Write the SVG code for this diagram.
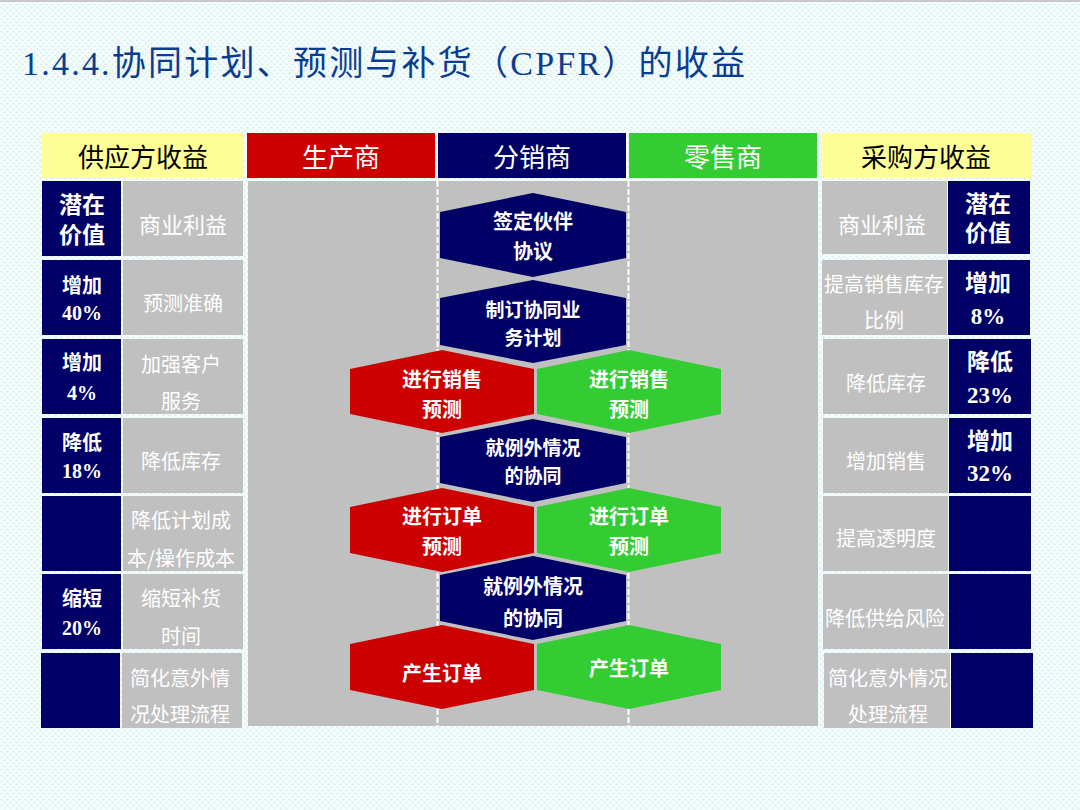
<svg xmlns="http://www.w3.org/2000/svg" width="1080" height="810" viewBox="0 0 1080 810">
<defs>
<pattern id="dots" width="6" height="6" patternUnits="userSpaceOnUse">
<rect width="6" height="6" fill="#f4fcfc"/>
<circle cx="1.5" cy="1.5" r="1" fill="#d3eeee"/>
<circle cx="4.5" cy="4.5" r="1" fill="#d3eeee"/>
</pattern>
<style>
.t{font-family:"Liberation Serif","Noto Sans CJK SC",serif;text-anchor:middle;dominant-baseline:central}
.hd{font-size:26px}
.wh{fill:#fff}
.bk{fill:#000}
.nv{fill:#000066}
.gr{fill:#c0c0c0}
.yl{fill:#ffff99}
.red{fill:#cc0000}
.grn{fill:#33cc33}
.g{font-size:20px;fill:#fff;font-family:"Noto Sans CJK SC",sans-serif;text-anchor:middle;dominant-baseline:central}
.g22{font-size:22px}
.b{font-size:20px;font-weight:bold;fill:#fff}
.b22{font-size:23px;font-weight:bold;fill:#fff}
.h{font-size:20px;font-weight:bold;fill:#fff;font-family:"Noto Sans CJK SC",sans-serif;text-anchor:middle;dominant-baseline:central}
.h19{font-size:19px}
</style>
</defs>
<rect width="1080" height="810" fill="url(#dots)"/>
<rect width="1080" height="2" fill="#c8c8c8"/>
<text x="22" y="75" font-family="Liberation Serif,Noto Sans CJK SC,serif" font-size="34" fill="#0a3d91" textLength="723" lengthAdjust="spacing">1.4.4.协同计划、预测与补货（CPFR）的收益</text>

<g id="headers">
<rect x="42" y="133" width="202" height="45" class="yl"/>
<text x="143" y="158" class="t hd bk">供应方收益</text>
<rect x="247" y="133" width="188" height="45" class="red"/>
<text x="341" y="158" class="t hd wh">生产商</text>
<rect x="438" y="133" width="188" height="45" class="nv"/>
<text x="532" y="158" class="t hd wh">分销商</text>
<rect x="629" y="133" width="188" height="45" class="grn"/>
<text x="723" y="158" class="t hd wh">零售商</text>
<rect x="821" y="133" width="211" height="45" class="yl"/>
<text x="926" y="158" class="t hd bk">采购方收益</text>
</g>

<g id="columns">
<rect x="248" y="181" width="570" height="545" class="gr"/>
<line x1="437.5" y1="181" x2="437.5" y2="726" stroke="#fff" stroke-width="2" stroke-dasharray="6 2"/>
<line x1="628.5" y1="181" x2="628.5" y2="726" stroke="#fff" stroke-width="2" stroke-dasharray="6 2"/>
</g>

<g id="left">
<rect x="42" y="181" width="79" height="75" class="nv"/><rect x="123" y="181" width="120" height="75" class="gr"/>
<text x="82" y="205" class="t b22">潜在</text><text x="82" y="235" class="t b22">价值</text>
<text x="183" y="223" class="g g22">商业利益</text>

<rect x="42" y="260" width="79" height="75" class="nv"/><rect x="123" y="260" width="120" height="75" class="gr"/>
<text x="82" y="286" class="t b">增加</text><text x="82" y="313" class="t b">40%</text>
<text x="183" y="302" class="g">预测准确</text>

<rect x="42" y="339" width="79" height="75" class="nv"/><rect x="123" y="339" width="120" height="75" class="gr"/>
<text x="82" y="363" class="t b">增加</text><text x="82" y="393" class="t b">4%</text>
<text x="181" y="363" class="g">加强客户</text><text x="181" y="400" class="g">服务</text>

<rect x="42" y="418" width="79" height="75" class="nv"/><rect x="123" y="418" width="120" height="75" class="gr"/>
<text x="82" y="443" class="t b">降低</text><text x="82" y="471" class="t b">18%</text>
<text x="181" y="460" class="g">降低库存</text>

<rect x="42" y="496" width="79" height="75" class="nv"/><rect x="123" y="496" width="120" height="75" class="gr"/>
<text x="181" y="519" class="g">降低计划成</text><text x="181" y="557" class="g">本/操作成本</text>

<rect x="42" y="574" width="79" height="75" class="nv"/><rect x="123" y="574" width="120" height="75" class="gr"/>
<text x="82" y="599" class="t b">缩短</text><text x="82" y="628" class="t b">20%</text>
<text x="181" y="597" class="g">缩短补货</text><text x="181" y="635" class="g">时间</text>

<rect x="41" y="653" width="79" height="75" class="nv"/><rect x="122" y="653" width="120" height="75" class="gr"/>
<text x="180" y="677" class="g">简化意外情</text><text x="180" y="713" class="g">况处理流程</text>
</g>

<g id="right">
<rect x="822" y="181" width="125" height="73" class="gr"/><rect x="948" y="181" width="82" height="73" class="nv"/>
<text x="882" y="223" class="g g22">商业利益</text>
<text x="988" y="204" class="t b22">潜在</text><text x="988" y="233" class="t b22">价值</text>

<rect x="822" y="260" width="125" height="75" class="gr"/><rect x="948" y="260" width="82" height="75" class="nv"/>
<text x="884" y="283" class="g">提高销售库存</text><text x="884" y="319" class="g">比例</text>
<text x="988" y="283" class="t b22">增加</text><text x="988" y="316" class="t b22">8%</text>

<rect x="823" y="339" width="125" height="75" class="gr"/><rect x="949" y="339" width="82" height="75" class="nv"/>
<text x="886" y="382" class="g">降低库存</text>
<text x="990" y="362" class="t b22">降低</text><text x="990" y="395" class="t b22">23%</text>

<rect x="823" y="418" width="125" height="75" class="gr"/><rect x="949" y="418" width="82" height="75" class="nv"/>
<text x="886" y="460" class="g">增加销售</text>
<text x="990" y="441" class="t b22">增加</text><text x="990" y="473" class="t b22">32%</text>

<rect x="823" y="496" width="125" height="75" class="gr"/><rect x="949" y="496" width="82" height="75" class="nv"/>
<text x="886" y="537" class="g">提高透明度</text>

<rect x="823" y="574" width="125" height="75" class="gr"/><rect x="949" y="574" width="82" height="75" class="nv"/>
<text x="885" y="617" class="g">降低供给风险</text>

<rect x="824" y="653" width="126" height="75" class="gr"/><rect x="951" y="653" width="82" height="75" class="nv"/>
<text x="888" y="677" class="g">简化意外情况</text><text x="888" y="713" class="g">处理流程</text>
</g>

<g id="flow">
<g id="n1"><polygon class="nv" points="533,193 626,212 626,258 533,277 440,258 440,212"/>
<text x="533" y="220" class="h">签定伙伴</text><text x="533" y="250" class="h">协议</text></g>
<g id="n2"><polygon class="nv" points="533,280 626,298 626,345 533,363 440,345 440,298"/>
<text x="533" y="308" class="h h19">制订协同业</text><text x="533" y="336" class="h h19">务计划</text></g>
<g id="r1"><polygon class="red" points="442,350 534,369 534,414 442,433 350,414 350,369"/>
<text x="442" y="378" class="h">进行销售</text><text x="442" y="408" class="h">预测</text></g>
<g id="g1"><polygon class="grn" points="629,350 721,369 721,414 629,433 537,414 537,369"/>
<text x="629" y="378" class="h">进行销售</text><text x="629" y="408" class="h">预测</text></g>
<g id="n3"><polygon class="nv" points="533,419 626,437 626,483 533,502 440,483 440,437"/>
<text x="533" y="446" class="h h19">就例外情况</text><text x="533" y="474" class="h h19">的协同</text></g>
<g id="r2"><polygon class="red" points="442,488 534,507 534,553 442,572 350,553 350,507"/>
<text x="442" y="515" class="h">进行订单</text><text x="442" y="545" class="h">预测</text></g>
<g id="g2"><polygon class="grn" points="629,488 721,507 721,553 629,572 537,553 537,507"/>
<text x="629" y="515" class="h">进行订单</text><text x="629" y="545" class="h">预测</text></g>
<g id="n4"><polygon class="nv" points="533,556 626,575 626,621 533,640 440,621 440,575"/>
<text x="533" y="585" class="h">就例外情况</text><text x="533" y="617" class="h">的协同</text></g>
<g id="r3"><polygon class="red" points="442,625 534,644 534,690 442,709 350,690 350,644"/>
<text x="442" y="672" class="h">产生订单</text></g>
<g id="g3"><polygon class="grn" points="629,625 721,644 721,690 629,709 537,690 537,644"/>
<text x="629" y="667" class="h">产生订单</text></g>
</g>
</svg>
